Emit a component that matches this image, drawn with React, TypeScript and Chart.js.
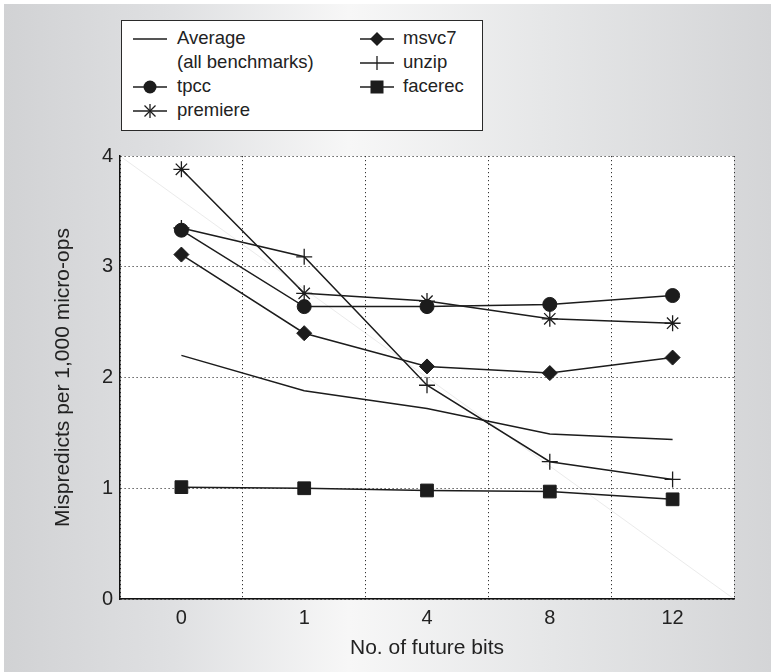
import React, { useEffect, useRef } from 'react';
import { Chart, registerables } from 'chart.js';
Chart.register(...registerables);

const categories = ['0', '1', '4', '8', '12'];
const average = [2.2, 1.88, 1.72, 1.49, 1.44];
const tpcc = [3.33, 2.64, 2.64, 2.66, 2.74];
const premiere = [3.88, 2.76, 2.69, 2.53, 2.49];
const msvc7 = [3.11, 2.4, 2.1, 2.04, 2.18];
const unzip = [3.35, 3.09, 1.93, 1.24, 1.08];
const facerec = [1.01, 1.0, 0.98, 0.97, 0.9];
const yMin = 0;
const yMax = 4;
const yStep = 1;

const FONT = '"Liberation Sans", Arial, Helvetica, sans-serif';
const INK = '#1c1c1c';

const plotBg = {
  id: 'plotBg',
  beforeDraw(chart: any) {
    const { ctx, chartArea: a } = chart;
    ctx.save();
    ctx.fillStyle = '#ffffff';
    ctx.fillRect(a.left, a.top, a.right - a.left, a.bottom - a.top);
    ctx.strokeStyle = '#ebebeb';
    ctx.lineWidth = 1;
    ctx.beginPath();
    ctx.moveTo(a.left, a.top);
    ctx.lineTo(a.right, a.bottom);
    ctx.stroke();
    ctx.restore();
  },
};

function Sample({ kind }: { kind: string }) {
  const cx = 17, cy = 8;
  let m: any = null;
  if (kind === 'circle') m = <circle cx={cx} cy={cy} r={6.5} fill={INK} />;
  if (kind === 'diamond') m = <polygon points={`${cx},${cy - 7} ${cx + 7},${cy} ${cx},${cy + 7} ${cx - 7},${cy}`} fill={INK} />;
  if (kind === 'square') m = <rect x={cx - 6.5} y={cy - 6.5} width={13} height={13} fill={INK} />;
  if (kind === 'plus') m = <line x1={cx} y1={cy - 7} x2={cx} y2={cy + 7} stroke={INK} strokeWidth={1.3} />;
  if (kind === 'star')
    m = (
      <g stroke={INK} strokeWidth={1.3}>
        <line x1={cx} y1={cy - 7} x2={cx} y2={cy + 7} />
        <line x1={cx - 5.5} y1={cy - 5.5} x2={cx + 5.5} y2={cy + 5.5} />
        <line x1={cx - 5.5} y1={cy + 5.5} x2={cx + 5.5} y2={cy - 5.5} />
      </g>
    );
  return (
    <svg width={34} height={16} style={{ position: 'absolute', left: 0, top: 4 }}>
      <line x1={0} y1={cy} x2={34} y2={cy} stroke={INK} strokeWidth={1.4} />
      {m}
    </svg>
  );
}

const legendItems = [
  { label: 'Average', kind: 'line', col: 0, row: 0 },
  { label: '(all benchmarks)', kind: 'none', col: 0, row: 1 },
  { label: 'tpcc', kind: 'circle', col: 0, row: 2 },
  { label: 'premiere', kind: 'star', col: 0, row: 3 },
  { label: 'msvc7', kind: 'diamond', col: 1, row: 0 },
  { label: 'unzip', kind: 'plus', col: 1, row: 1 },
  { label: 'facerec', kind: 'square', col: 1, row: 2 },
];

export default function App() {
  const ref = useRef<HTMLCanvasElement>(null);
  useEffect(() => {
    document.body.style.margin = '0';
    const pt = (style: string, r: number, extra: any = {}) => ({
      borderColor: INK,
      backgroundColor: INK,
      borderWidth: 1.5,
      pointStyle: style,
      pointRadius: r,
      pointBackgroundColor: INK,
      pointBorderColor: INK,
      pointBorderWidth: 1,
      tension: 0,
      ...extra,
    });
    const chart = new Chart(ref.current as HTMLCanvasElement, {
      type: 'line',
      data: {
        labels: categories,
        datasets: [
          { label: 'Average (all benchmarks)', data: average, ...pt('circle', 0) },
          { label: 'tpcc', data: tpcc, ...pt('circle', 7) },
          { label: 'premiere', data: premiere, ...pt('star', 8, { pointBorderWidth: 1.3 }) },
          { label: 'msvc7', data: msvc7, ...pt('rectRot', 7.5) },
          { label: 'unzip', data: unzip, ...pt('cross', 8, { pointBorderWidth: 1.3 }) },
          { label: 'facerec', data: facerec, ...pt('rect', 9) },
        ],
      },
      options: {
        responsive: false,
        animation: false,
        events: [],
        layout: { padding: { left: 0, top: 156, right: 37, bottom: 0 } },
        plugins: { legend: { display: false }, tooltip: { enabled: false } },
        scales: {
          x: {
            type: 'category',
            offset: true,
            grid: { offset: true, color: '#333', lineWidth: 1, drawTicks: false },
            border: { display: true, color: '#111', width: 1.5, dash: [1.2, 2.8] },
            ticks: { color: '#222', font: { family: FONT, size: 20 }, padding: 7 },
            title: {
              display: true,
              text: 'No. of future bits',
              color: '#222',
              font: { family: FONT, size: 21 },
              padding: { top: 0, bottom: 11 },
            },
            afterFit: (s: any) => { s.height = 73; },
          },
          y: {
            min: yMin,
            max: yMax,
            grid: { color: '#333', lineWidth: 1, drawTicks: false },
            border: { display: true, color: '#111', width: 1.5, dash: [1.2, 2.8] },
            ticks: { stepSize: yStep, color: '#222', font: { family: FONT, size: 20 }, padding: 7 },
            title: {
              display: true,
              text: 'Mispredicts per 1,000 micro-ops',
              color: '#222',
              font: { family: FONT, size: 21 },
              padding: { top: 51, bottom: 0 },
            },
            afterFit: (s: any) => { s.width = 120; },
          },
        },
      },
      plugins: [plotBg],
    } as any);
    return () => chart.destroy();
  }, []);

  return (
    <div style={{ position: 'relative', width: 771, height: 672, background: '#ffffff', overflow: 'hidden' }}>
      <div
        style={{
          position: 'absolute',
          left: 4,
          top: 4,
          right: 0,
          bottom: 0,
          background: 'linear-gradient(to right, #d1d2d4 0%, #dfe0e2 22%, #f7f7f7 45%, #e6e7e8 70%, #d4d5d7 100%)',
        }}
      />
      <canvas ref={ref} width={771} height={672} style={{ position: 'absolute', left: 0, top: 0 }} />
      <div
        style={{
          position: 'absolute',
          left: 121,
          top: 20,
          width: 362,
          height: 111,
          boxSizing: 'border-box',
          border: '1.5px solid #2a2a2a',
          background: '#ffffff',
          fontFamily: FONT,
          fontSize: 18.5,
          color: '#222',
        }}
      >
        {legendItems.map((it) => (
          <div
            key={it.label}
            style={{
              position: 'absolute',
              left: it.col === 0 ? 11 : 238,
              top: 6 + it.row * 24,
              height: 24,
              whiteSpace: 'nowrap',
            }}
          >
            {it.kind !== 'none' && <Sample kind={it.kind} />}
            <span style={{ position: 'absolute', left: it.col === 0 ? 44 : 43, top: 0, lineHeight: '22px' }}>{it.label}</span>
          </div>
        ))}
      </div>
    </div>
  );
}
